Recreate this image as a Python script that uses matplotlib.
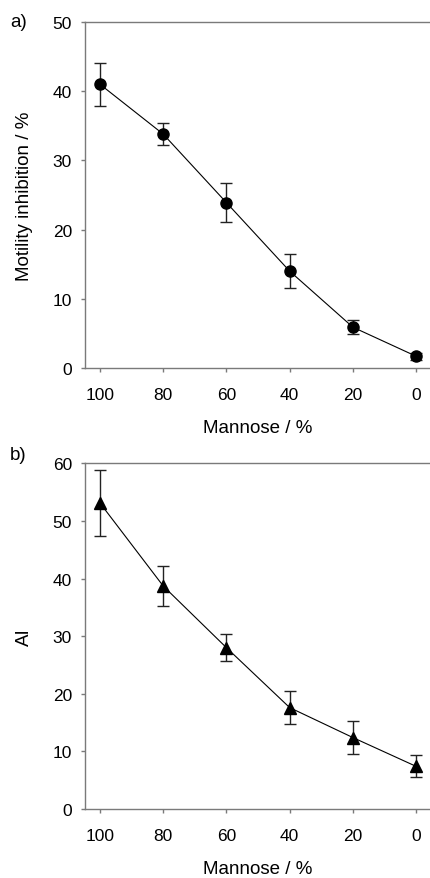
import matplotlib
matplotlib.use("Agg")
import matplotlib.pyplot as plt

plt.rcParams["font.family"] = ["Liberation Sans", "DejaVu Sans"]

mannose = [100, 80, 60, 40, 20, 0]

motility = [41.0, 33.8, 23.9, 14.0, 5.9, 1.7]
motility_err = [3.1, 1.6, 2.8, 2.5, 1.0, 0.5]

ai = [53.1, 38.7, 28.0, 17.6, 12.4, 7.4]
ai_err = [5.8, 3.4, 2.4, 2.8, 2.8, 1.9]

GRAY = "#7a7a7a"


def style(ax, ymax, ylabel):
    ax.set_xlim(104.7, -4.4)
    ax.set_ylim(0, ymax)
    ax.set_xticks(mannose)
    ax.set_yticks(range(0, ymax + 1, 10))
    ax.spines["right"].set_visible(False)
    for s in ("left", "bottom", "top"):
        ax.spines[s].set_color(GRAY)
        ax.spines[s].set_linewidth(1.0)
    ax.tick_params(direction="out", length=3, width=1.0, color=GRAY,
                   labelsize=12.5, top=False, right=False)
    ax.tick_params(axis="x", pad=11)
    ax.tick_params(axis="y", pad=6.5)
    ax.set_xlabel("Mannose / %", fontsize=13.5, labelpad=12)
    ax.set_ylabel(ylabel, fontsize=13.5, labelpad=14)


fig = plt.figure(figsize=(4.3, 8.79), dpi=100)
ax1 = fig.add_axes([0.198, 0.5802, 0.802, 0.3936])
ax2 = fig.add_axes([0.198, 0.0785, 0.802, 0.3933])

ax1.errorbar(mannose, motility, yerr=motility_err, color="black", lw=0.8,
             marker="o", markersize=8, capsize=4, elinewidth=1.0, ecolor="#222222")
style(ax1, 50, "Motility inhibition / %")

ax2.errorbar(mannose, ai, yerr=ai_err, color="black", lw=0.8,
             marker="^", markersize=8, capsize=4, elinewidth=1.0, ecolor="#222222")
style(ax2, 60, "AI")

fig.text(0.023, 0.974, "a)", fontsize=13.5, va="center")
fig.text(0.023, 0.482, "b)", fontsize=13.5, va="center")

fig.savefig("out.png", dpi=100)
